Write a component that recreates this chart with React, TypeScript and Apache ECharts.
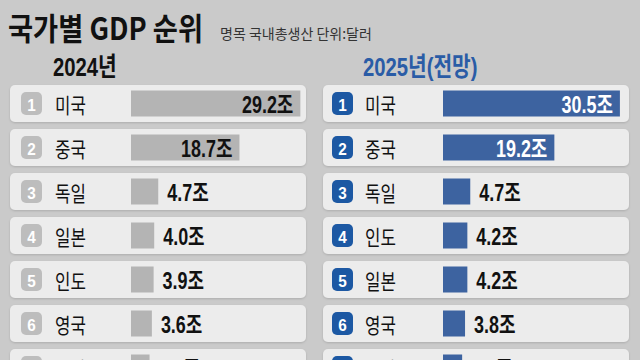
import React, { useEffect, useRef } from 'react';
import * as echarts from 'echarts';

const names2024 = ['미국', '중국', '독일', '일본', '인도', '영국', '프랑스'];
const values2024 = [29.2, 18.7, 4.7, 4.0, 3.9, 3.6, 3.2];
const names2025 = ['미국', '중국', '독일', '인도', '일본', '영국', '프랑스'];
const values2025 = [30.5, 19.2, 4.7, 4.2, 4.2, 3.8, 3.3];
const ranks = ['1', '2', '3', '4', '5', '6', '7'];
const titleText = '국가별 GDP 순위';
const subtitleText = '명목 국내총생산 단위:달러';
const panelTitles = ['2024년', '2025년(전망)'];
const unit = '조';

const NUM_FONT = '"Liberation Sans", Arial, "Noto Sans CJK KR", sans-serif';
const KR_FONT = '"Noto Sans CJK KR", "Noto Sans", sans-serif';

const panels = [
  { names: names2024, values: values2024, gridLeft: 131, barColor: '#b4b4b4', badgeColor: '#bdbdbd', insideLabelColor: '#111111', rowOffset: -121, rowWidth: 296, badgeOffset: -110, nameOffset: -76 },
  { names: names2025, values: values2025, gridLeft: 443, barColor: '#3d63a0', badgeColor: '#1c58a3', insideLabelColor: '#ffffff', rowOffset: -120, rowWidth: 306, badgeOffset: -111, nameOffset: -78 },
];

export default function App() {
  const ref = useRef<HTMLDivElement>(null);
  useEffect(() => {
    if (!ref.current) return;
    const chart = echarts.init(ref.current, null, { renderer: 'svg' });
    const grid: any[] = [];
    const xAxis: any[] = [];
    const yAxis: any[] = [];
    const series: any[] = [];
    panels.forEach((p, k) => {
      grid.push({ left: p.gridLeft, top: 81.5, width: 185.6, height: 308 });
      xAxis.push({ type: 'value', gridIndex: k, min: 0, max: 32, show: false });
      yAxis.push({ type: 'category', gridIndex: k, data: p.names, inverse: true, show: false });
      series.push({
        type: 'custom',
        xAxisIndex: k,
        yAxisIndex: k,
        z: 1,
        silent: true,
        data: p.names.map((n, i) => [0, i]),
        renderItem: (params: any, api: any) => {
          const i = params.dataIndex;
          const pt = api.coord([0, i]);
          const x0 = pt[0];
          const cy = pt[1];
          return {
            type: 'group',
            children: [
              { type: 'rect', shape: { x: x0 + p.rowOffset, y: cy - 18.5, width: p.rowWidth, height: 37, r: 5 }, style: { fill: '#ececec', shadowBlur: 2, shadowColor: 'rgba(0,0,0,0.15)', shadowOffsetY: 1 } },
              { type: 'rect', shape: { x: x0 + p.badgeOffset, y: cy - 11.5, width: 21, height: 23, r: 5 }, style: { fill: p.badgeColor } },
              { type: 'text', x: x0 + p.badgeOffset + 10.5, y: cy + 1, scaleX: 0.9, style: { text: ranks[i], fill: '#ffffff', fontSize: 17, fontWeight: 'bold', fontFamily: NUM_FONT, align: 'center', verticalAlign: 'middle' } },
              { type: 'text', x: x0 + p.nameOffset, y: cy, scaleX: 0.8, style: { text: p.names[i], fill: '#111111', fontSize: 21, fontFamily: KR_FONT, align: 'left', verticalAlign: 'middle' } },
            ],
          };
        },
      });
      series.push({
        type: 'bar',
        xAxisIndex: k,
        yAxisIndex: k,
        z: 3,
        barWidth: 26,
        itemStyle: { color: p.barColor },
        data: p.values,
      });
      series.push({
        type: 'custom',
        xAxisIndex: k,
        yAxisIndex: k,
        z: 5,
        silent: true,
        data: p.values.map((v, i) => [v, i]),
        renderItem: (params: any, api: any) => {
          const i = params.dataIndex;
          const v = p.values[i];
          const end = api.coord([v, i]);
          const inside = v > 10;
          return {
            type: 'text',
            x: inside ? end[0] - 7 : end[0] + 9,
            y: end[1] + 1,
            scaleX: 0.78,
            style: {
              text: v.toFixed(1) + unit,
              fill: inside ? p.insideLabelColor : '#111111',
              fontSize: 23,
              fontWeight: 'bold',
              fontFamily: NUM_FONT,
              align: inside ? 'right' : 'left',
              verticalAlign: 'middle',
            },
          };
        },
      });
    });
    chart.setOption({
      animation: false,
      backgroundColor: '#cacaca',
      graphic: [
        { type: 'text', x: 8, y: 26, scaleX: 0.88, style: { text: titleText, fill: '#111111', fontSize: 31, fontWeight: 'bold', fontFamily: KR_FONT, verticalAlign: 'middle' } },
        { type: 'text', x: 220, y: 33, style: { text: subtitleText, fill: '#333333', fontSize: 14, fontFamily: KR_FONT, verticalAlign: 'middle' } },
        { type: 'text', x: 53, y: 67, scaleX: 0.78, style: { text: panelTitles[0], fill: '#111111', fontSize: 26, fontWeight: 'bold', fontFamily: NUM_FONT, verticalAlign: 'middle' } },
        { type: 'text', x: 363, y: 67, scaleX: 0.78, style: { text: panelTitles[1], fill: '#2a5ca6', fontSize: 26, fontWeight: 'bold', fontFamily: NUM_FONT, verticalAlign: 'middle' } },
      ],
      grid,
      xAxis,
      yAxis,
      series,
    });
    return () => chart.dispose();
  }, []);
  return (
    <div style={{ position: 'fixed', left: 0, top: 0, width: 640, height: 360, overflow: 'hidden' }}>
      <div ref={ref} style={{ position: 'absolute', left: 0, top: 0, width: 640, height: 400 }} />
    </div>
  );
}
